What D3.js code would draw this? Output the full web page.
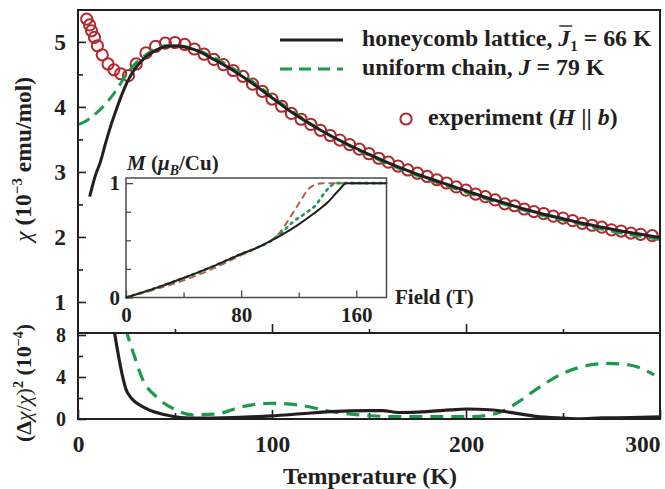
<!DOCTYPE html>
<html>
<head>
<meta charset="utf-8">
<script src="https://cdn.jsdelivr.net/npm/d3@7"></script>
<style>
  body { margin: 0; background: #fff; }
  svg text { font-family: "Liberation Serif", "Times New Roman", serif; font-weight: bold; fill: #231f20; }
</style>
</head>
<body>
<div id="chart"></div>
<script>
// tick labels
const tempTicks = [0, 100, 200, 300]
const tempMinor = [50, 150, 250]
const chiTicks = [1, 2, 3, 4, 5]
const chiMinor = [1.5, 2.5, 3.5, 4.5]
const devTicks = [0, 4, 8]
const devMinor = [2, 6]
const fieldTicks = [0, 80, 160]
const fieldMinor = [40, 120]
const magTicks = [0, 1]
const magMinor = [0.25, 0.5, 0.75]

// experiment, H || b
const expT = [4.5, 6, 7, 8.5, 10, 12.5, 15.5, 18.5, 22, 26, 30, 35, 40, 45, 50, 55, 60, 65, 70, 75,
  80, 85, 90, 95, 100, 105, 110, 115, 120, 125, 130, 135, 140, 145, 150, 155, 160, 165, 170, 175,
  180, 185, 190, 195, 200, 205, 210, 215, 220, 225, 230, 235, 240, 245, 250, 255, 260, 265, 270, 275,
  280, 285, 290, 296]
const expChi = [5.35, 5.26, 5.17, 5.07, 4.94, 4.80, 4.66, 4.57, 4.51, 4.48, 4.66, 4.83, 4.93, 4.98, 4.99, 4.96, 4.89, 4.81, 4.73, 4.65,
  4.56, 4.47, 4.35, 4.24, 4.12, 4.01, 3.90, 3.81, 3.73, 3.64, 3.56, 3.49, 3.42, 3.35, 3.28, 3.21, 3.15, 3.09, 3.03, 2.98,
  2.93, 2.88, 2.83, 2.77, 2.72, 2.66, 2.62, 2.57, 2.51, 2.48, 2.43, 2.39, 2.36, 2.32, 2.29, 2.25, 2.21, 2.18, 2.15, 2.11,
  2.09, 2.06, 2.04, 2.02]

// honeycomb lattice fit
const honeyT = [6, 9, 11.5, 14, 17, 20, 23, 26, 30, 35, 40, 45, 50, 55, 60, 70, 80, 90, 100, 110, 120,
  130, 140, 150, 160, 170, 180, 190, 200, 210, 220, 230, 240, 250, 260, 270, 280, 290, 300]
const honeyChi = [2.62, 2.95, 3.15, 3.42, 3.72, 3.98, 4.22, 4.42, 4.61, 4.77, 4.87, 4.93, 4.94, 4.92, 4.88, 4.73, 4.56, 4.36, 4.14, 3.92, 3.73,
  3.56, 3.41, 3.27, 3.14, 3.02, 2.91, 2.81, 2.71, 2.61, 2.52, 2.43, 2.35, 2.28, 2.21, 2.15, 2.09, 2.04, 1.99]

// uniform chain fit
const chainT = [0.5, 5, 10, 15, 20, 25, 30, 35, 40, 45, 50, 55, 60, 70, 80, 90, 100, 110, 120,
  130, 140, 150, 160, 170, 180, 190, 200, 210, 220, 230, 240, 250, 260, 270, 280, 290, 300]
const chainChi = [3.73, 3.80, 3.92, 4.07, 4.27, 4.50, 4.68, 4.80, 4.89, 4.94, 4.95, 4.93, 4.89, 4.76, 4.59, 4.39, 4.16, 3.94, 3.74,
  3.56, 3.40, 3.26, 3.12, 3.00, 2.89, 2.79, 2.69, 2.59, 2.50, 2.41, 2.33, 2.26, 2.19, 2.12, 2.06, 2.01, 1.96]

// squared relative deviation, 10^-4
const honeyDevT = [18.5, 25.5, 35, 45, 58, 80, 100, 115, 130, 150, 157, 165, 180, 192, 200, 212, 226, 236, 250, 258, 270, 285, 300]
const honeyDev = [8.6, 2.5, 1.0, 0.4, 0.08, 0.14, 0.3, 0.5, 0.7, 0.8, 0.8, 0.62, 0.7, 0.86, 0.95, 0.88, 0.54, 0.25, 0.08, 0.02, 0.1, 0.13, 0.2]
const chainDevT = [24.5, 28.5, 33.5, 40.5, 49, 59, 71, 84, 100, 114, 131, 148, 165, 181, 202, 216, 226, 236, 250, 264, 273, 285, 297]
const chainDev = [8.6, 6.3, 3.7, 2.1, 1.0, 0.4, 0.47, 1.15, 1.5, 1.33, 0.7, 0.35, 0.22, 0.22, 0.22, 0.55, 1.5, 2.8, 4.35, 5.15, 5.3, 5.12, 4.2]

// inset magnetization curves
const magBlackH = [0, 20, 40, 60, 80, 90, 100, 110, 120, 130, 140, 148, 153, 181]
const magBlack = [0, 0.08, 0.17, 0.27, 0.38, 0.43, 0.49, 0.56, 0.64, 0.73, 0.83, 0.94, 1.0, 1.0]
const magGreenH = [0, 20, 40, 60, 80, 90, 100, 107, 116, 125, 132, 137, 141, 146, 181]
const magGreen = [0, 0.08, 0.17, 0.27, 0.38, 0.43, 0.49, 0.555, 0.66, 0.74, 0.81, 0.90, 0.96, 1.0, 1.0]
const magBrownH = [0, 20, 40, 60, 80, 90, 100, 107, 114, 121, 126.5, 132, 137, 181]
const magBrown = [0, 0.07, 0.15, 0.25, 0.37, 0.43, 0.49, 0.57, 0.70, 0.84, 0.945, 0.99, 1.0, 1.0]

const width = 665, height = 489
const ink = "#231f20"
const green = "#1a9a4a"
const red = "#b3262c"
const brown = "#b0624a"

const svg = d3.select("#chart").append("svg")
  .attr("width", width).attr("height", height)

const x = d3.scaleLinear().domain([0, 300]).range([78, 660])
const yTop = d3.scaleLinear().domain([0.523, 5.49]).range([333, 10])
const yBot = d3.scaleLinear().domain([0, 8.19]).range([419, 333])
const xi = d3.scaleLinear().domain([0, 181]).range([126, 386.5])
const yi = d3.scaleLinear().domain([0, 1.045]).range([297.5, 178])

const defs = svg.append("defs")
defs.append("clipPath").attr("id", "clipTop").append("rect")
  .attr("x", 78).attr("y", 10).attr("width", 582).attr("height", 323)
defs.append("clipPath").attr("id", "clipBot").append("rect")
  .attr("x", 78).attr("y", 333).attr("width", 582).attr("height", 86)

function styleAxis(sel, size) {
  sel.select(".domain").remove()
  sel.selectAll(".tick line").attr("stroke", ink).attr("stroke-width", 1.6)
  sel.selectAll(".tick text").attr("font-size", size).attr("fill", ink)
    .attr("font-family", "Liberation Serif, serif").attr("font-weight", "bold")
}

// upper panel axes
svg.append("g").attr("transform", `translate(${x(0)},0)`)
  .call(d3.axisLeft(yTop).tickValues(chiTicks).tickSize(-8).tickPadding(12).tickFormat(d3.format("d")))
  .call(g => styleAxis(g, 23.5))
svg.append("g").attr("transform", `translate(${x(0)},0)`)
  .call(d3.axisLeft(yTop).tickValues(chiMinor).tickSize(-5).tickFormat(""))
  .call(g => styleAxis(g, 23))
svg.append("g").attr("transform", `translate(0,${yTop.range()[0]})`)
  .call(d3.axisBottom(x).tickValues(tempTicks.slice(1, 3)).tickSize(-9).tickFormat(""))
  .call(g => styleAxis(g, 23))
svg.append("g").attr("transform", `translate(0,${yTop.range()[0]})`)
  .call(d3.axisBottom(x).tickValues(tempMinor).tickSize(-4).tickFormat(""))
  .call(g => styleAxis(g, 23))

// lower panel axes
svg.append("g").attr("transform", `translate(${x(0)},0)`)
  .call(d3.axisLeft(yBot).tickValues(devTicks).tickSize(-8).tickPadding(12).tickFormat(d3.format("d")))
  .call(g => styleAxis(g, 20))
svg.append("g").attr("transform", `translate(${x(0)},0)`)
  .call(d3.axisLeft(yBot).tickValues(devMinor).tickSize(-5).tickFormat(""))
  .call(g => styleAxis(g, 20))
const xAxis = svg.append("g").attr("transform", `translate(0,${yBot.range()[0]})`)
  .call(d3.axisBottom(x).tickValues(tempTicks).tickSize(-9).tickPadding(16).tickFormat(d3.format("d")))
  .call(g => styleAxis(g, 23.5))
xAxis.selectAll(".tick text").filter(d => d === 300).attr("text-anchor", "end")
svg.append("g").attr("transform", `translate(0,${yBot.range()[0]})`)
  .call(d3.axisBottom(x).tickValues(tempMinor).tickSize(-6).tickFormat(""))
  .call(g => styleAxis(g, 23))

// upper panel data
const upper = svg.append("g").attr("clip-path", "url(#clipTop)")
upper.selectAll("circle").data(expT).join("circle")
  .attr("cx", d => x(d))
  .attr("cy", (d, i) => yTop(expChi[i]))
  .attr("r", 5.6)
  .attr("fill", "none")
  .attr("stroke", red)
  .attr("stroke-width", 2)

const chiLine = d3.line().curve(d3.curveMonotoneX)
upper.append("path")
  .attr("d", chiLine(chainT.map((t, i) => [x(t), yTop(chainChi[i])])))
  .attr("fill", "none").attr("stroke", green).attr("stroke-width", 3)
  .attr("stroke-dasharray", "12,7")
upper.append("path")
  .attr("d", chiLine(honeyT.map((t, i) => [x(t), yTop(honeyChi[i])])))
  .attr("fill", "none").attr("stroke", ink).attr("stroke-width", 3)

// lower panel data
const lower = svg.append("g").attr("clip-path", "url(#clipBot)")
lower.append("path")
  .attr("d", chiLine(chainDevT.map((t, i) => [x(t), yBot(chainDev[i])])))
  .attr("fill", "none").attr("stroke", green).attr("stroke-width", 3.2)
  .attr("stroke-dasharray", "13,8")
lower.append("path")
  .attr("d", chiLine(honeyDevT.map((t, i) => [x(t), yBot(honeyDev[i])])))
  .attr("fill", "none").attr("stroke", ink).attr("stroke-width", 3.2)

// frame
svg.append("rect")
  .attr("x", x(0)).attr("y", yTop.range()[1])
  .attr("width", x(300) - x(0)).attr("height", yBot.range()[0] - yTop.range()[1])
  .attr("fill", "none").attr("stroke", ink).attr("stroke-width", 2)
svg.append("line")
  .attr("x1", x(0)).attr("x2", x(300))
  .attr("y1", yBot.range()[1]).attr("y2", yBot.range()[1])
  .attr("stroke", ink).attr("stroke-width", 2)

// inset
const inset = svg.append("g")
inset.append("rect")
  .attr("x", xi(0)).attr("y", yi.range()[1])
  .attr("width", xi.range()[1] - xi(0)).attr("height", yi(0) - yi.range()[1])
  .attr("fill", "#fff").attr("stroke", "#4a4a4a").attr("stroke-width", 1.5)
inset.append("g").attr("transform", `translate(${xi(0)},0)`)
  .call(d3.axisLeft(yi).tickValues(magTicks).tickSize(-7).tickPadding(6).tickFormat(d3.format("d")))
  .call(g => styleAxis(g, 21))
inset.append("g").attr("transform", `translate(${xi(0)},0)`)
  .call(d3.axisLeft(yi).tickValues(magMinor).tickSize(-5).tickFormat(""))
  .call(g => styleAxis(g, 21))
inset.append("g").attr("transform", `translate(0,${yi(0)})`)
  .call(d3.axisBottom(xi).tickValues(fieldTicks).tickSize(-7).tickPadding(10).tickFormat(d3.format("d")))
  .call(g => styleAxis(g, 21))
inset.append("g").attr("transform", `translate(0,${yi(0)})`)
  .call(d3.axisBottom(xi).tickValues(fieldMinor).tickSize(-5).tickFormat(""))
  .call(g => styleAxis(g, 21))
inset.selectAll(".tick line").attr("stroke", "#4a4a4a").attr("stroke-width", 1.3)

const magLine = d3.line().curve(d3.curveMonotoneX)
inset.append("path")
  .attr("d", magLine(magBrownH.map((h, i) => [xi(h), yi(magBrown[i])])))
  .attr("fill", "none").attr("stroke", brown).attr("stroke-width", 2)
  .attr("stroke-dasharray", "7,4")
inset.append("path")
  .attr("d", magLine(magGreenH.map((h, i) => [xi(h), yi(magGreen[i])])))
  .attr("fill", "none").attr("stroke", green).attr("stroke-width", 2.6)
  .attr("stroke-dasharray", "2,5").attr("stroke-linecap", "round")
inset.append("path")
  .attr("d", magLine(magBlackH.map((h, i) => [xi(h), yi(magBlack[i])])))
  .attr("fill", "none").attr("stroke", ink).attr("stroke-width", 2)

// inset labels
const mLabel = svg.append("text").attr("x", 127).attr("y", 170).attr("font-size", 21)
mLabel.append("tspan").attr("font-style", "italic").text("M")
mLabel.append("tspan").text(" (")
mLabel.append("tspan").attr("font-style", "italic").text("μ")
mLabel.append("tspan").attr("font-style", "italic").attr("font-size", 14).attr("dy", 5).text("B")
mLabel.append("tspan").attr("dy", -5).text("/Cu)")
svg.append("text").attr("x", 395).attr("y", 304).attr("font-size", 21).text("Field (T)")

// axis titles
const yTitle = svg.append("text")
  .attr("transform", `translate(31,${(yTop(1) + yTop(5.45)) / 2 + 2}) rotate(-90)`)
  .attr("text-anchor", "middle").attr("font-size", 23.5)
yTitle.append("tspan").attr("font-style", "italic").attr("font-weight", "normal").text("χ")
yTitle.append("tspan").text(" (10")
yTitle.append("tspan").attr("font-size", 15).attr("dy", -9).text("−3")
yTitle.append("tspan").attr("dy", 9).text(" emu/mol)")

const devTitle = svg.append("text")
  .attr("transform", "translate(31,383) rotate(-90)")
  .attr("text-anchor", "middle").attr("font-size", 22)
devTitle.append("tspan").text("(Δ")
devTitle.append("tspan").attr("font-style", "italic").attr("font-weight", "normal").text("χ")
devTitle.append("tspan").attr("font-weight", "normal").text("/")
devTitle.append("tspan").attr("font-style", "italic").attr("font-weight", "normal").text("χ")
devTitle.append("tspan").attr("font-weight", "normal").text(")")
devTitle.append("tspan").attr("font-size", 14).attr("dy", -8).text("2")
devTitle.append("tspan").attr("dy", 8).text(" (10")
devTitle.append("tspan").attr("font-size", 14).attr("dy", -8).text("−4")
devTitle.append("tspan").attr("dy", 8).text(")")

svg.append("text").attr("x", 370).attr("y", 484).attr("text-anchor", "middle")
  .attr("font-size", 24).text("Temperature (K)")

// legend
svg.append("line").attr("x1", 280).attr("x2", 343).attr("y1", 40).attr("y2", 40)
  .attr("stroke", ink).attr("stroke-width", 3)
svg.append("line").attr("x1", 280).attr("x2", 343).attr("y1", 69).attr("y2", 69)
  .attr("stroke", green).attr("stroke-width", 3).attr("stroke-dasharray", "12,7")
svg.append("circle").attr("cx", 406).attr("cy", 119).attr("r", 5.6)
  .attr("fill", "none").attr("stroke", red).attr("stroke-width", 2)

const leg1 = svg.append("text").attr("x", 362).attr("y", 46).attr("font-size", 23.8)
leg1.append("tspan").text("honeycomb lattice, ")
leg1.append("tspan").attr("font-style", "italic").text("J")
leg1.append("tspan").attr("font-size", 15).attr("dy", 5).text("1")
leg1.append("tspan").attr("dy", -5).text(" = 66 K")
const jBox = leg1.node().getExtentOfChar("honeycomb lattice, ".length)
svg.append("line")
  .attr("x1", jBox.x + 1).attr("x2", jBox.x + jBox.width + 2)
  .attr("y1", jBox.y + 1).attr("y2", jBox.y + 1)
  .attr("stroke", ink).attr("stroke-width", 1.4)

const leg2 = svg.append("text").attr("x", 362).attr("y", 75).attr("font-size", 23.8)
leg2.append("tspan").text("uniform chain, ")
leg2.append("tspan").attr("font-style", "italic").text("J")
leg2.append("tspan").text(" = 79 K")

const leg3 = svg.append("text").attr("x", 428).attr("y", 125).attr("font-size", 23.8)
leg3.append("tspan").text("experiment (")
leg3.append("tspan").attr("font-style", "italic").text("H")
leg3.append("tspan").text(" || ")
leg3.append("tspan").attr("font-style", "italic").text("b")
leg3.append("tspan").text(")")
</script>
</body>
</html>
